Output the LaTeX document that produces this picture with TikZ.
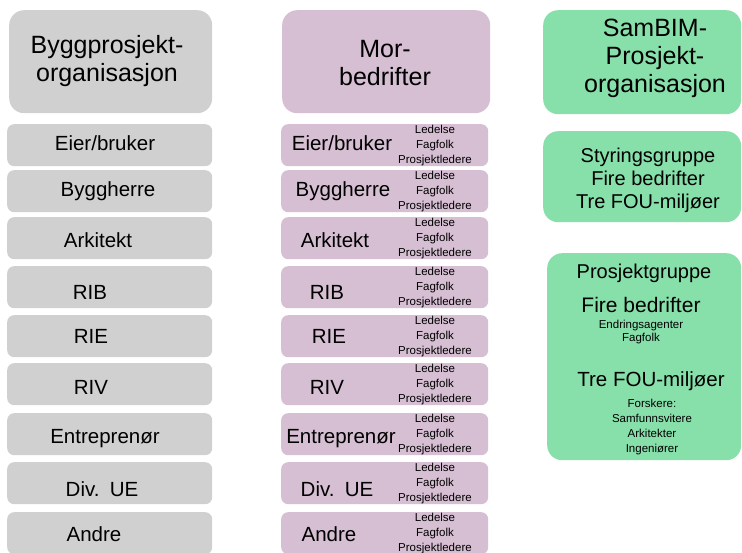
\documentclass[tikz,border=0pt]{standalone}
\usepackage{fontspec}
\setmainfont{Liberation Sans}
\usepackage{xcolor}
\usetikzlibrary{positioning}
\definecolor{bpgrey}{RGB}{208,208,208}
\definecolor{mbmauve}{RGB}{214,190,211}
\definecolor{sbgreen}{RGB}{135,223,170}

\begin{document}
\begin{tikzpicture}[x=1pt,y=-1pt,
    headbox/.style={anchor=north west,inner sep=0pt,rounded corners=15pt},
    rowbox/.style={anchor=north west,inner sep=0pt,minimum height=42pt,rounded corners=7pt},
    bigtxt/.style={align=center,inner sep=0pt,font=\fontsize{25}{28}\selectfont},
    rowtxt/.style={anchor=base,inner sep=0pt,font=\fontsize{20.5}{24}\selectfont},
    tinytxt/.style={align=center,inner sep=0pt,font=\fontsize{11.5}{15}\selectfont}]
  \useasboundingbox (0,0) rectangle (742,553);
  \fill[white] (0,0) rectangle (742,553);

  % column heads
  \node[headbox,fill=bpgrey,minimum width=203pt,minimum height=103pt] (bpHead) at (9,10) {};
  \node[bigtxt] (bpHeadTxt) at (107,61) {Byggprosjekt-\\organisasjon};
  \node[headbox,fill=mbmauve,minimum width=208pt,minimum height=103pt] (mbHead) at (282,10) {};
  \node[bigtxt] (mbHeadTxt) at (385,63) {Mor-\\bedrifter};
  \node[headbox,fill=sbgreen,minimum width=198pt,minimum height=104pt] (sbHead) at (543,10) {};
  \node[bigtxt] (sbHeadTxt) at (655,58) {SamBIM-\\Prosjekt-\\organisasjon};

  % one row per party, grey and mauve side by side
  \foreach \n/\top/\base/\lbl/\lx/\mx in {
    1/124/151/{Eier/bruker}/105/342,
    2/170/197/Byggherre/108/343,
    3/217/248/Arkitekt/98/335,
    4/266/300/RIB/90/327,
    5/315/344/RIE/91/329,
    6/363/395/RIV/91/327,
    7/413/443/Entreprenør/105/341,
    8/462/496/{Div.\enspace UE}/102/337,
    9/512/541/Andre/94/329}{
    \node[rowbox,fill=bpgrey,minimum width=205pt] (bp\n) at (7,\top) {};
    \node[rowtxt] (bpL\n) at (\lx,\base) {\lbl};
    \node[rowbox,fill=mbmauve,minimum width=207pt] (mb\n) at (281,\top) {};
    \node[rowtxt] (mbL\n) at (\mx,\base) {\lbl};
    \node[tinytxt] (mbS\n) at (435,\top+22) {Ledelse\\Fagfolk\\Prosjektledere};
  }

  % steering group and project group
  \node[headbox,fill=sbgreen,minimum width=198pt,minimum height=91pt] (styring) at (543,131) {};
  \node[align=center,inner sep=0pt,font=\fontsize{20}{23}\selectfont] (styringTxt) at (648,180)
    {Styringsgruppe\\Fire bedrifter\\Tre FOU-miljøer};
  \node[headbox,fill=sbgreen,minimum width=194pt,minimum height=207pt] (prosjekt) at (547,253) {};
  \node[rowtxt,font=\fontsize{20}{24}\selectfont] (pgTitle) at (644,279) {Prosjektgruppe};
  \node[rowtxt,font=\fontsize{21}{24}\selectfont] (pgFire) at (641,313) {Fire bedrifter};
  \node[tinytxt,font=\fontsize{11.5}{13}\selectfont] (pgFireS) at (641,332) {Endringsagenter\\Fagfolk};
  \node[rowtxt] (pgTre) at (651,387) {Tre FOU-miljøer};
  \node[tinytxt] (pgTreS) at (652,427) {Forskere:\\Samfunnsvitere\\Arkitekter\\Ingeniører};
\end{tikzpicture}
\end{document}
